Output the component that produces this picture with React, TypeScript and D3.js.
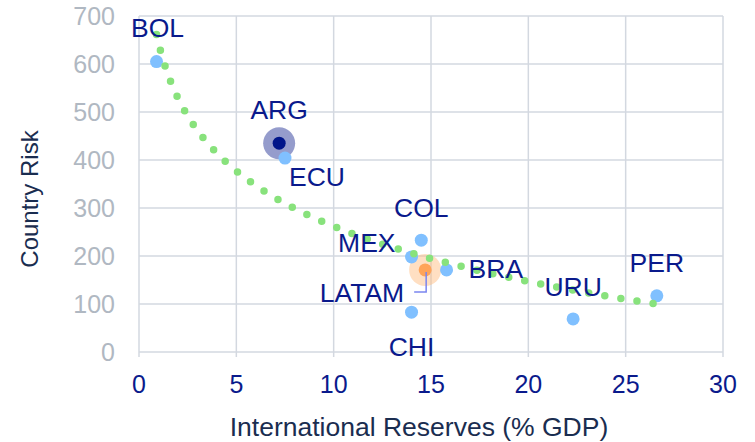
import React from "react";
import * as d3 from "d3";

const countries = ["BOL", "ARG", "ECU", "COL", "MEX", "LATAM", "BRA", "CHI", "URU", "PER"];
const reserves = [0.9, 7.2, 7.5, 14.5, 14.0, 14.7, 15.8, 14.0, 22.3, 26.6];
const risk = [605, 435, 404, 233, 198, 171, 171, 83, 69, 117];
const xTicks = [0, 5, 10, 15, 20, 25, 30];
const yTicks = [0, 100, 200, 300, 400, 500, 600, 700];

// label placement (styling, not data)
const labelLayout: Record<string, { dx: number; dy: number; anchor: string }> = {
  BOL: { dx: 1, dy: -25, anchor: "middle" },
  ARG: { dx: 0, dy: -24, anchor: "middle" },
  ECU: { dx: 4, dy: 28, anchor: "start" },
  COL: { dx: 0, dy: -23, anchor: "middle" },
  MEX: { dx: -16, dy: -5, anchor: "end" },
  LATAM: { dx: -21, dy: 32, anchor: "end" },
  BRA: { dx: 22, dy: 8, anchor: "start" },
  CHI: { dx: 0, dy: 44, anchor: "middle" },
  URU: { dx: 0, dy: -23, anchor: "middle" },
  PER: { dx: 0, dy: -24, anchor: "middle" },
};

const W = 755, H = 442;
const FONT = "'Liberation Sans', Arial, sans-serif";

export default function App() {
  const x = d3.scaleLinear().domain([0, 30]).range([139, 723]);
  const y = d3.scaleLinear().domain([0, 700]).range([352, 16]);

  // logarithmic trendline fitted on countries (excluding LATAM aggregate)
  const idx = countries.map((_, i) => i).filter((i) => countries[i] !== "LATAM");
  const lx = idx.map((i) => Math.log(reserves[i]));
  const ly = idx.map((i) => risk[i]);
  const mx = d3.mean(lx) as number, my = d3.mean(ly) as number;
  let sxy = 0, sxx = 0;
  lx.forEach((v, k) => { sxy += (v - mx) * (ly[k] - my); sxx += (v - mx) * (v - mx); });
  const b = sxy / sxx, a = my - b * mx;
  const xmin = d3.min(idx.map((i) => reserves[i])) as number;
  const xmax = d3.max(idx.map((i) => reserves[i])) as number;
  const trendPts = d3.range(0, 201).map((k) => {
    const xv = xmin + ((xmax - xmin) * k) / 200;
    return [x(xv), y(a + b * Math.log(xv))] as [number, number];
  });
  const trendPath = d3.line()(trendPts) || "";

  const iARG = countries.indexOf("ARG");
  const iLAT = countries.indexOf("LATAM");

  return (
    <svg width={W} height={H} style={{ position: "absolute", left: 0, top: 0, background: "#fff" }}>
      {/* grid */}
      {xTicks.map((t) => (
        <line key={"gx" + t} x1={x(t)} x2={x(t)} y1={y(700)} y2={y(0)} stroke="#d3d8e0" strokeWidth={1.5} />
      ))}
      {yTicks.map((t) => (
        <line key={"gy" + t} x1={x(0)} x2={x(30)} y1={y(t)} y2={y(t)} stroke="#d3d8e0" strokeWidth={1.5} />
      ))}
      {xTicks.map((t) => (
        <line key={"tk" + t} x1={x(t)} x2={x(t)} y1={y(0)} y2={y(0) + 5} stroke="#d3d8e0" strokeWidth={1.5} />
      ))}
      {/* tick labels */}
      {yTicks.map((t) => (
        <text key={"yl" + t} x={115} y={y(t)} dy="0.36em" textAnchor="end" fontFamily={FONT} fontSize={25} fill="#b0b8c2">
          {t}
        </text>
      ))}
      {xTicks.map((t) => (
        <text key={"xl" + t} x={x(t)} y={393} textAnchor="middle" fontFamily={FONT} fontSize={25} fill="#0a1a8c">
          {t}
        </text>
      ))}
      {/* axis titles */}
      <text x={419} y={436} textAnchor="middle" fontFamily={FONT} fontSize={26.5} fill="#1a2d50">
        International Reserves (% GDP)
      </text>
      <text transform={`translate(38,199) rotate(-90)`} textAnchor="middle" fontFamily={FONT} fontSize={24} fill="#1a2d50">
        Country Risk
      </text>

      {/* halos */}
      <circle cx={x(reserves[iARG])} cy={y(risk[iARG])} r={16} fill="#2b3a9a" opacity={0.5} />
      <circle cx={x(reserves[iLAT])} cy={y(risk[iLAT])} r={16} fill="#ffb878" opacity={0.45} />

      {/* points */}
      {countries.map((c, i) => {
        const fill = c === "ARG" ? "#00158a" : c === "LATAM" ? "#ffa459" : "#80c0ff";
        return <circle key={"p" + c} cx={x(reserves[i])} cy={y(risk[i])} r={6.5} fill={fill} />;
      })}

      {/* trendline */}
      <path d={trendPath} fill="none" stroke="#88e27c" strokeWidth={7.5} strokeLinecap="round" strokeDasharray="0 16.3" />

      {/* LATAM leader */}
      <polyline
        points={`${x(reserves[iLAT]) + 1},${y(risk[iLAT]) + 2} ${x(reserves[iLAT]) + 1},${y(risk[iLAT]) + 22} ${x(reserves[iLAT]) - 11},${y(risk[iLAT]) + 22}`}
        fill="none"
        stroke="#7b86f0"
        strokeWidth={1.5}
      />

      {/* labels */}
      {countries.map((c, i) => {
        const l = labelLayout[c];
        return (
          <text key={"l" + c} x={x(reserves[i]) + l.dx} y={y(risk[i]) + l.dy} textAnchor={l.anchor} fontFamily={FONT} fontSize={26.5} fill="#0a1a8c">
            {c}
          </text>
        );
      })}
    </svg>
  );
}
